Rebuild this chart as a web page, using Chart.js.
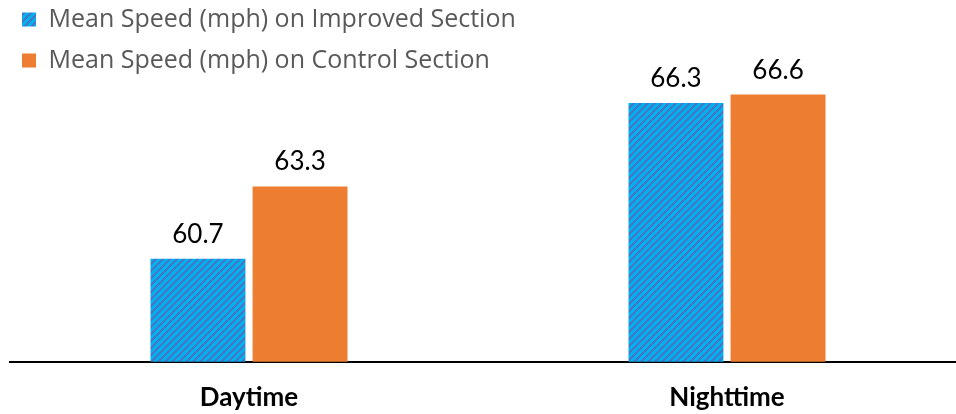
<!DOCTYPE html>
<html>
<head>
<meta charset="utf-8">
<script src="https://cdn.jsdelivr.net/npm/chart.js@4"></script>
<style>
  html, body { margin: 0; padding: 0; background: #fff; overflow: hidden; }
  #wrap { position: absolute; left: 0; top: 0; width: 966px; height: 442px; }
</style>
</head>
<body>
<div id="wrap"><canvas id="myChart"></canvas></div>
<script>
  const categories = ["Daytime", "Nighttime"];
  const improvedSpeed = [60.7, 66.3];
  const controlSpeed = [63.3, 66.6];
  const seriesNames = [
    "Mean Speed (mph) on Improved Section",
    "Mean Speed (mph) on Control Section",
  ];

  var canvas = document.getElementById("myChart");

  // diagonal stripe fill for the improved section bars
  function stripes() {
    var tile = document.createElement("canvas");
    tile.width = 7;
    tile.height = 7;
    var c = tile.getContext("2d");
    c.fillStyle = "#00B0F0";
    c.fillRect(0, 0, 7, 7);
    c.fillStyle = "#4578C4";
    for (var x = 0; x < 7; x++) {
      for (var y = 0; y < 7; y++) {
        if ((x + y) % 7 < 3) c.fillRect(x, y, 1, 1);
      }
    }
    return canvas.getContext("2d").createPattern(tile, "repeat");
  }

  const barLabels = {
    id: "barLabels",
    afterDatasetsDraw(chart) {
      const ctx = chart.ctx;
      ctx.save();
      ctx.font = "26px Lato";
      ctx.fillStyle = "#000";
      ctx.textAlign = "center";
      ctx.textBaseline = "alphabetic";
      chart.data.datasets.forEach(function (ds, i) {
        chart.getDatasetMeta(i).data.forEach(function (bar, j) {
          ctx.fillText(ds.data[j].toFixed(1), bar.x, bar.y - 16);
        });
      });
      ctx.restore();
    },
  };

  // legend sits inside the plot, a bit up and left of the default spot
  const legendNudge = {
    id: "legendNudge",
    beforeDraw(chart) {
      chart.legend.left = chart.chartArea.left - 4;
      chart.legend.top = chart.chartArea.top - 9;
    },
  };

  const config = {
    type: "bar",
    data: {
      labels: categories,
      datasets: [
        {
          label: seriesNames[0],
          data: improvedSpeed,
          backgroundColor: stripes(),
          categoryPercentage: 0.427,
          barPercentage: 0.93,
        },
        {
          label: seriesNames[1],
          data: controlSpeed,
          backgroundColor: "#ED7D31",
          categoryPercentage: 0.427,
          barPercentage: 0.93,
        },
      ],
    },
    options: {
      responsive: true,
      maintainAspectRatio: false,
      animation: false,
      layout: { padding: { left: 10, right: 0, top: 0, bottom: 9 } },
      plugins: {
        tooltip: { enabled: false },
        legend: {
          position: "chartArea",
          align: "start",
          labels: {
            font: { family: "Open Sans", size: 25 },
            color: "#595959",
            boxWidth: 14,
            boxHeight: 14,
            padding: 16,
          },
        },
      },
      scales: {
        x: {
          grid: { display: false, drawTicks: false },
          border: { color: "#000", width: 2 },
          ticks: {
            color: "#000",
            padding: 20,
            font: { family: "Lato", size: 26, weight: "bold" },
          },
        },
        y: {
          display: false,
          min: 57,
          max: 70,
        },
      },
    },
    plugins: [barLabels, legendNudge],
  };

  const myChart = new Chart(canvas, config);
</script>
</body>
</html>
